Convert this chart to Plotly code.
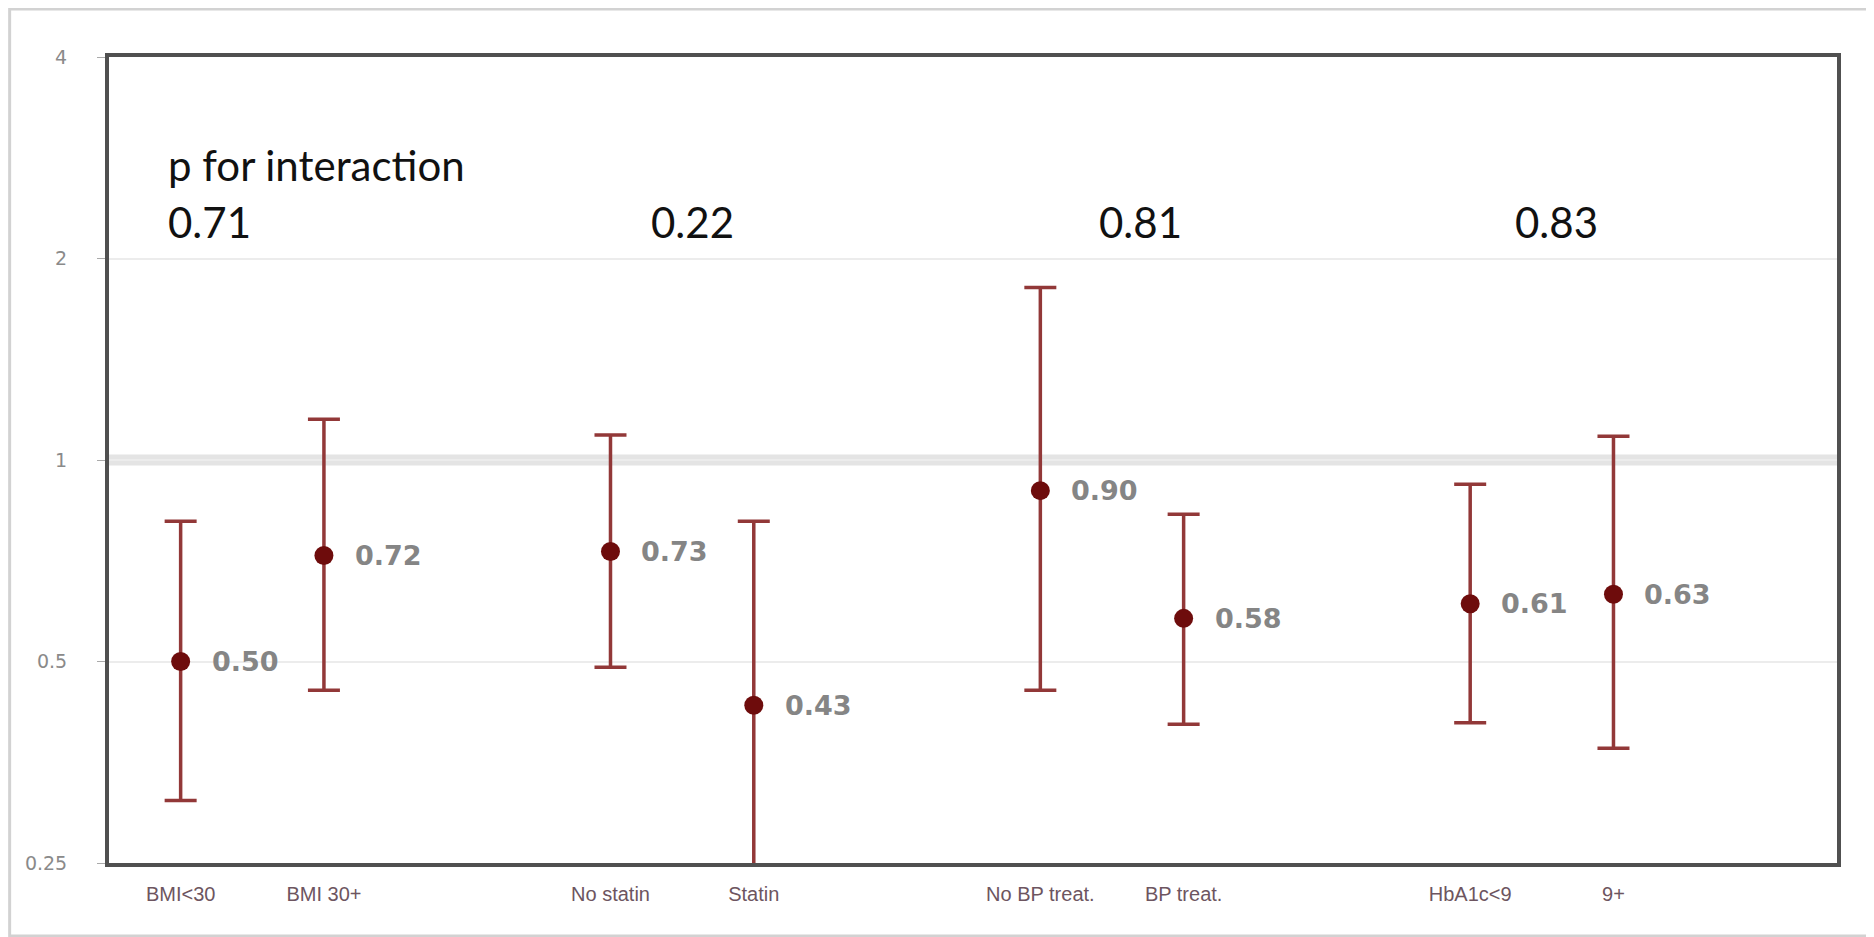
import plotly.graph_objects as go
import math

categories = ["BMI<30", "BMI 30+", "No statin", "Statin", "No BP treat.", "BP treat.", "HbA1c<9", "9+"]
positions = [1, 2, 4, 5, 7, 8, 10, 11]
hr = [0.50, 0.72, 0.73, 0.43, 0.90, 0.58, 0.61, 0.63]
ci_upper = [0.81, 1.15, 1.09, 0.81, 1.81, 0.83, 0.92, 1.085]
ci_lower = [0.31, 0.453, 0.49, 0.23, 0.453, 0.403, 0.405, 0.371]
hr_labels = ["0.50", "0.72", "0.73", "0.43", "0.90", "0.58", "0.61", "0.63"]
p_values = ["0.71", "0.22", "0.81", "0.83"]
y_ticks = [0.25, 0.5, 1, 2, 4]
y_ticklabels = ["0.25", "0.5", "1", "2", "4"]

fig = go.Figure()

fig.add_trace(go.Scatter(
    x=positions, y=hr, mode="markers",
    marker=dict(color="#6e0c0c", size=19),
    error_y=dict(type="data", symmetric=False,
                 array=[u - v for u, v in zip(ci_upper, hr)],
                 arrayminus=[v - l for v, l in zip(hr, ci_lower)],
                 color="#923838", thickness=3.5, width=16),
    showlegend=False, hoverinfo="skip",
))

annotations = []
for x, v, t in zip(positions, hr, hr_labels):
    annotations.append(dict(x=x, y=math.log10(v), xref="x", yref="y", text="<b>" + t + "</b>",
                            showarrow=False, xanchor="left", yanchor="middle", xshift=29,
                            font=dict(family="DejaVu Sans", size=27, color="#858585")))

annotations.append(dict(x=0.033, y=0.866, xref="paper", yref="paper", text="p for interaction",
                        showarrow=False, xanchor="left", yanchor="middle",
                        font=dict(family="Lato", size=42, color="#111111")))
p_x = [0.033, 0.3125, 0.5715, 0.8125]
for px, t in zip(p_x, p_values):
    annotations.append(dict(x=px, y=0.795, xref="paper", yref="paper", text=t,
                            showarrow=False, xanchor="left", yanchor="middle",
                            font=dict(family="Lato", size=42, color="#111111")))

shapes = [
    dict(type="line", xref="paper", yref="y", x0=0, x1=1, y0=1, y1=1,
         line=dict(color="#e4e4e4", width=11), layer="below"),
    dict(type="rect", xref="paper", yref="paper", x0=-0.0575, x1=1.0245, y0=-0.0905, y1=1.0595,
         line=dict(color="#d2d2d2", width=3), layer="below"),
]

fig.update_layout(
    width=1874, height=937,
    margin=dict(l=101, r=45, t=49, b=82),
    paper_bgcolor="white", plot_bgcolor="white",
    annotations=annotations, shapes=shapes,
    xaxis=dict(range=[0.5, 12.56], tickvals=positions, ticktext=categories,
               showgrid=False, zeroline=False, ticks="",
               showline=True, mirror=True, linecolor="#505050", linewidth=4,
               tickfont=dict(family="Liberation Sans", size=20, color="#6d5560"),
               ticklabelstandoff=10),
    yaxis=dict(type="log", range=[math.log10(0.25), math.log10(4)],
               tickvals=y_ticks, ticktext=y_ticklabels,
               showgrid=True, gridcolor="#ececec", gridwidth=2, zeroline=False,
               ticks="outside", ticklen=8, tickcolor="#aaaaaa",
               showline=True, mirror=True, linecolor="#505050", linewidth=4,
               tickfont=dict(family="DejaVu Sans", size=19, color="#8a8a8a"),
               ticklabelstandoff=26),
)

fig.write_html("out.html")
